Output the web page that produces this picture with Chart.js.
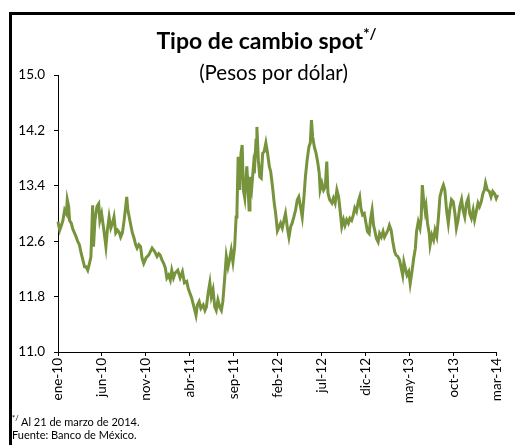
<!DOCTYPE html>
<html lang="es">
<head>
<meta charset="utf-8">
<title>Tipo de cambio spot</title>
<script src="https://cdn.jsdelivr.net/npm/chart.js@4.4.1/dist/chart.umd.min.js"></script>
<style>
  html, body { margin: 0; padding: 0; background: #fff; }
  body { width: 515px; height: 445px; position: relative; overflow: hidden; font-family: Lato, "Open Sans", sans-serif; }
  #marco { position: absolute; left: 9px; top: 12px; width: 600px; height: 500px; border: 3px solid #000; box-sizing: border-box; }
  #grafica { position: absolute; left: 0; top: 0; }
  .titulo { position: absolute; left: 0; width: 533px; text-align: center; top: 25px; font-size: 23px; font-weight: bold; color: #000; }
  .titulo sup { font-size: 15px; position: relative; top: -1px; }
  .subtitulo { position: absolute; left: 0; width: 547px; text-align: center; top: 60px; font-size: 20.5px; color: #000; }
  .nota { position: absolute; left: 12px; font-size: 11px; color: #000; }
  .nota sup { font-size: 7.5px; }
</style>
</head>
<body>
<div id="marco"></div>
<canvas id="grafica" width="515" height="445"></canvas>
<div class="titulo">Tipo de cambio spot<sup>*/</sup></div>
<div class="subtitulo">(Pesos por dólar)</div>
<div class="nota" style="top:414px"><sup>*/</sup> Al 21 de marzo de 2014.</div>
<div class="nota" style="top:428px">Fuente: Banco de México.</div>
<script>
// días desde el 1 de enero de 2010
const dias = [
  0, 6, 12, 17, 23, 29, 32, 37, 40, 46, 51, 57, 63, 69, 74, 80, 86, 92, 97, 103,
  109, 114, 120, 123, 128, 135, 141, 145, 151, 158, 166, 171, 177, 183, 189, 194, 200, 206, 212, 217,
  223, 229, 234, 238, 242, 249, 257, 263, 269, 274, 280, 286, 291, 297, 305, 314, 320, 326, 335, 343,
  349, 354, 360, 366, 372, 377, 383, 389, 394, 400, 406, 415, 423, 431, 438, 446, 451, 457, 463, 469,
  474, 478, 483, 489, 495, 503, 509, 514, 520, 526, 531, 537, 543, 548, 554, 560, 566, 571, 577, 583,
  589, 594, 600, 606, 612, 617, 620, 624, 629, 634, 638, 642, 647, 654, 657, 662, 665, 671, 677, 680,
  686, 689, 694, 699, 704, 709, 714, 720, 726, 732, 737, 743, 749, 754, 760, 766, 771, 777, 783, 788,
  794, 800, 806, 811, 817, 823, 829, 834, 840, 846, 852, 857, 863, 869, 874, 878, 882, 888, 894, 900,
  905, 908, 914, 920, 926, 931, 935, 941, 949, 954, 960, 966, 972, 977, 983, 989, 994, 1000, 1006, 1011,
  1017, 1023, 1028, 1034, 1040, 1045, 1049, 1055, 1061, 1066, 1072, 1078, 1083, 1088, 1093, 1097, 1103, 1109, 1114, 1120,
  1126, 1131, 1137, 1143, 1148, 1154, 1160, 1166, 1171, 1177, 1183, 1189, 1194, 1198, 1203, 1209, 1215, 1220, 1226, 1232,
  1238, 1242, 1248, 1254, 1258, 1262, 1266, 1272, 1275, 1280, 1286, 1289, 1295, 1301, 1306, 1312, 1318, 1323, 1329, 1335,
  1340, 1346, 1352, 1357, 1363, 1369, 1375, 1380, 1386, 1392, 1398, 1403, 1409, 1415, 1421, 1426, 1432, 1438, 1443, 1449,
  1455, 1460, 1466, 1472, 1477, 1481, 1487, 1494, 1500, 1506, 1512, 1518, 1523, 1529, 1534
];

// pesos por dólar
const tipoCambio = [
  12.88, 12.76, 12.83, 12.90, 13.05, 13.00, 13.20, 13.10, 12.90, 12.86, 12.78, 12.72, 12.66, 12.59, 12.55, 12.43, 12.33, 12.23, 12.23, 12.18,
  12.28, 12.37, 13.12, 12.52, 12.90, 13.10, 13.14, 12.90, 13.00, 12.79, 12.52, 12.76, 12.95, 12.79, 12.86, 12.95, 12.72, 12.76, 12.73, 12.66,
  12.72, 12.90, 13.08, 13.24, 13.05, 12.90, 12.73, 12.65, 12.55, 12.50, 12.55, 12.52, 12.36, 12.28, 12.36, 12.40, 12.45, 12.50, 12.45, 12.38,
  12.42, 12.40, 12.33, 12.28, 12.21, 12.07, 12.11, 12.04, 12.18, 12.07, 12.14, 12.18, 12.07, 12.16, 12.00, 12.02, 11.92, 11.85, 11.78, 11.68,
  11.60, 11.53, 11.68, 11.73, 11.63, 11.68, 11.60, 11.65, 11.85, 12.00, 11.80, 11.90, 11.65, 11.60, 11.75, 11.65, 11.60, 11.73, 12.04, 12.38,
  12.23, 12.33, 12.47, 12.30, 12.52, 12.95, 13.05, 13.82, 13.34, 13.87, 13.99, 13.34, 13.22, 13.68, 13.48, 13.05, 13.53, 13.37, 13.68, 13.58,
  14.06, 14.25, 13.77, 13.53, 13.51, 13.87, 13.89, 14.02, 13.87, 13.68, 13.60, 13.39, 13.15, 13.00, 12.75, 12.81, 12.86, 12.79, 12.91, 13.00,
  12.81, 12.66, 12.81, 12.86, 12.95, 13.05, 13.20, 13.24, 13.10, 12.95, 13.24, 13.53, 13.77, 13.96, 14.02, 14.35, 14.11, 13.96, 13.87, 13.73,
  13.58, 13.34, 13.44, 13.34, 13.39, 13.75, 13.30, 13.20, 13.15, 13.22, 13.15, 13.34, 13.24, 13.05, 12.81, 12.91, 12.83, 12.91, 12.86, 12.93,
  12.90, 12.98, 13.08, 13.03, 13.17, 13.24, 13.08, 12.98, 13.00, 12.88, 12.74, 12.71, 12.93, 13.05, 12.83, 12.76, 12.64, 12.59, 12.71, 12.66,
  12.74, 12.66, 12.71, 12.76, 12.83, 12.76, 12.59, 12.45, 12.40, 12.38, 12.33, 12.21, 12.11, 12.30, 12.21, 12.11, 12.16, 11.99, 12.16, 12.35,
  12.50, 12.74, 12.88, 12.79, 12.93, 13.41, 13.22, 13.03, 13.10, 12.86, 12.71, 12.55, 12.69, 12.62, 12.76, 12.67, 12.95, 13.24, 13.34, 13.41,
  13.34, 13.05, 12.86, 13.05, 13.20, 13.17, 13.00, 12.79, 12.91, 13.10, 13.20, 13.05, 12.95, 13.15, 13.22, 13.00, 12.93, 13.05, 12.91, 13.03,
  13.15, 13.10, 13.17, 13.29, 13.34, 13.44, 13.34, 13.32, 13.24, 13.32, 13.29, 13.22, 13.27, 13.20, 13.22
];

const fechasEtiquetas = ['2010-01-01', '2010-06-01', '2010-11-01', '2011-04-01', '2011-09-01', '2012-02-01',
  '2012-07-01', '2012-12-01', '2013-05-01', '2013-10-01', '2014-03-01'];
const etiquetas = ['ene-10', 'jun-10', 'nov-10', 'abr-11', 'sep-11', 'feb-12', 'jul-12', 'dic-12', 'may-13', 'oct-13', 'mar-14'];
const ticksY = [11.0, 11.8, 12.6, 13.4, 14.2, 15.0];

const inicio = Date.UTC(2010, 0, 1);
const diasEtiquetas = fechasEtiquetas.map(f => Math.round((Date.parse(f) - inicio) / 86400000));

const puntos = dias.map((d, i) => ({ x: d, y: tipoCambio[i] }));

const ctx = document.getElementById('grafica').getContext('2d');
new Chart(ctx, {
  type: 'line',
  data: {
    datasets: [{
      data: puntos,
      borderColor: '#77933c',
      borderWidth: 3,
      pointRadius: 0,
      tension: 0,
      clip: false
    }]
  },
  options: {
    responsive: false,
    animation: false,
    layout: { padding: { top: 75, right: 13, left: 0, bottom: 0 } },
    plugins: { legend: { display: false }, tooltip: { enabled: false } },
    scales: {
      x: {
        type: 'linear',
        min: diasEtiquetas[0],
        max: diasEtiquetas[diasEtiquetas.length - 1],
        afterBuildTicks: s => { s.ticks = diasEtiquetas.map(v => ({ value: v })); },
        afterFit: s => { s.height = 93; },
        ticks: {
          autoSkip: false,
          minRotation: 90,
          maxRotation: 90,
          padding: 2,
          color: '#000',
          font: { family: 'Lato', size: 13.5 },
          callback: v => etiquetas[diasEtiquetas.indexOf(v)]
        },
        grid: { drawOnChartArea: false, drawTicks: true, tickLength: 4, color: '#000' },
        border: { display: true, color: '#000', width: 1 }
      },
      y: {
        min: 11,
        max: 15,
        afterBuildTicks: s => { s.ticks = ticksY.map(v => ({ value: v })); },
        afterFit: s => { s.width = 58; },
        ticks: {
          padding: 9,
          color: '#000',
          font: { family: 'Lato', size: 13.5 },
          callback: v => v.toFixed(1)
        },
        grid: { drawOnChartArea: false, drawTicks: true, tickLength: 4, color: '#000' },
        border: { display: true, color: '#000', width: 1 }
      }
    }
  }
});
</script>
</body>
</html>
